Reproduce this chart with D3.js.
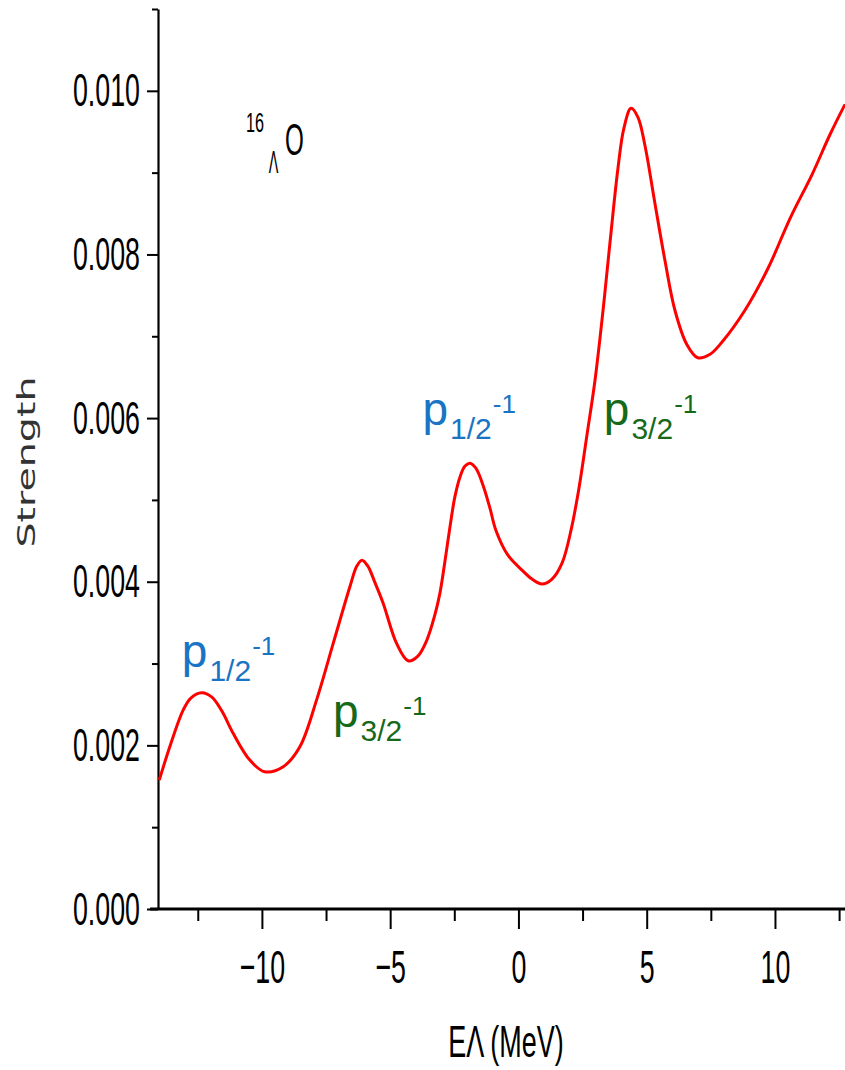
<!DOCTYPE html>
<html>
<head>
<meta charset="utf-8">
<script src="https://cdn.jsdelivr.net/npm/d3@7"></script>
<style>
  body { margin: 0; background: #fff; }
  svg { display: block; }
</style>
</head>
<body>
<svg id="chart" width="845" height="1070"></svg>
<script>
// strength function (E_Lambda in MeV, strength)
const energy = [-14.0, -13.59, -13.07, -12.77, -12.35, -11.95, -11.56, -11.12, -10.47, -9.89,
  -9.17, -8.52, -7.87, -7.22, -6.57, -6.30, -6.10, -5.87, -5.60, -5.27,
  -4.75, -4.30, -3.92, -3.57, -3.26, -3.06, -2.87, -2.67, -2.48, -2.28,
  -2.09, -1.89, -1.66, -1.38, -1.11, -0.88, -0.41, 0.14, 0.53, 0.92,
  1.31, 1.70, 2.05, 2.36, 2.67, 2.98, 3.29, 3.57, 3.88, 4.11,
  4.39, 4.66, 4.93, 5.32, 5.71, 6.10, 6.56, 6.99, 7.47, 7.93,
  8.83, 9.73, 10.59, 11.45, 12.15, 12.73];
const strength = [0.001576, 0.001983, 0.002431, 0.002578, 0.002643, 0.00259, 0.002419, 0.002147, 0.00182, 0.001677,
  0.001739, 0.001983, 0.002553, 0.003246, 0.003938, 0.004191, 0.004264, 0.004191, 0.003995, 0.003735,
  0.003246, 0.003034, 0.003091, 0.003287, 0.003592, 0.003861, 0.004239, 0.004667, 0.005034, 0.005278,
  0.005412, 0.005449, 0.005388, 0.00518, 0.004899, 0.00463, 0.004325, 0.004142, 0.004032, 0.003971,
  0.004032, 0.004227, 0.00463, 0.005144, 0.005791, 0.006451, 0.007294, 0.008149, 0.009053, 0.009542,
  0.009786, 0.009676, 0.009334, 0.008626, 0.007929, 0.007318, 0.006903, 0.006738, 0.006781, 0.006927,
  0.007318, 0.007831, 0.008442, 0.00898, 0.009469, 0.009835];

const xMajor = [-10, -5, 0, 5, 10];
const xMinor = [-12.5, -7.5, -2.5, 2.5, 7.5, 12.5];
const yMajor = [0, 0.002, 0.004, 0.006, 0.008, 0.010];
const yMinor = [0.001, 0.003, 0.005, 0.007, 0.009, 0.011];

// peak labels: sub index and anchor (E, strength) of the baseline start
const peakNames = ["p", "p", "p", "p"];
const peakSubs = ["1/2", "3/2", "1/2", "3/2"];
const peakE = [-13.12, -7.23, -3.74, 3.33];
const peakS = [0.00296, 0.00222, 0.00591, 0.00591];

const blue = "#1a74c4", green = "#17691a";
const narrow = 0.57; // figure text is squeezed horizontally

const svg = d3.select("#chart");

const x = d3.scaleLinear().domain([-14.05, 12.73]).range([158, 845]);
const y = d3.scaleLinear().domain([0, 0.011]).range([909, 9]);

const numFont = "'Liberation Sans', Arial, sans-serif";

// y axis
const yAxis = svg.append("g").attr("transform", "translate(158,0)")
  .call(d3.axisLeft(y).tickValues(yMajor).tickSize(11).tickSizeOuter(0).tickPadding(7)
    .tickFormat(d3.format(".3f")));
yAxis.select(".domain").attr("stroke-width", 2.2);
yAxis.selectAll(".tick line").attr("stroke-width", 2);
yAxis.selectAll("text")
  .style("font-family", numFont).style("font-size", "47px").attr("fill", "#000")
  .attr("transform", function() { return `translate(${d3.select(this).attr("x")},0) scale(${narrow},1)`; })
  .attr("x", 0);

svg.append("g").attr("transform", "translate(158,0)")
  .call(d3.axisLeft(y).tickValues(yMinor).tickSize(6).tickSizeOuter(0).tickFormat(""))
  .call(g => g.select(".domain").remove())
  .selectAll("line").attr("stroke-width", 2);

// x axis
const xAxis = svg.append("g").attr("transform", "translate(0,909)")
  .call(d3.axisBottom(x).tickValues(xMajor).tickSize(20).tickSizeOuter(0).tickPadding(21));
xAxis.select(".domain").attr("d", "M150,0H845").attr("stroke-width", 3);
xAxis.selectAll(".tick line").attr("stroke-width", 2);
xAxis.selectAll("text")
  .style("font-family", numFont).style("font-size", "47px").attr("fill", "#000")
  .attr("transform", `scale(${narrow},1)`);
xAxis.selectAll("text").attr("x", 0);

svg.append("g").attr("transform", "translate(0,909)")
  .call(d3.axisBottom(x).tickValues(xMinor).tickSize(12).tickSizeOuter(0).tickFormat(""))
  .call(g => g.select(".domain").remove())
  .selectAll("line").attr("stroke-width", 2);

// axis titles
svg.append("text")
  .attr("transform", "translate(506,1057) scale(0.6,1)")
  .attr("text-anchor", "middle")
  .style("font-family", numFont).style("font-size", "45px")
  .text("EΛ (MeV)");

svg.append("text")
  .attr("transform", "translate(35,462) rotate(-90)")
  .attr("text-anchor", "middle")
  .attr("fill", "#333")
  .attr("textLength", 171).attr("lengthAdjust", "spacingAndGlyphs")
  .style("font-family", "'DejaVu Sans', Verdana, sans-serif").style("font-size", "25px")
  .text("Strength");

// nucleus label 16-Lambda-O
const nuc = svg.append("g").style("font-family", numFont).attr("fill", "#000");
nuc.append("text").attr("transform", "translate(246,132) scale(0.6,1)")
  .style("font-size", "27px").text("16");
nuc.append("text").attr("transform", "translate(273.5,173) scale(0.45,1)")
  .attr("text-anchor", "middle").style("font-size", "32px").text("Λ");
nuc.append("text").attr("transform", "translate(285,155) scale(0.55,1)")
  .style("font-size", "44px").text("O");

// curve
const pts = energy.map((e, i) => [e, strength[i]]);
svg.append("path")
  .datum(pts)
  .attr("fill", "none")
  .attr("stroke", "#ff0000")
  .attr("stroke-width", 3)
  .attr("d", d3.line().x(d => x(d[0])).y(d => y(d[1])).curve(d3.curveCatmullRom.alpha(0.5)));

// peak labels
peakE.forEach(function(e, i) {
  const t = svg.append("text")
    .attr("x", x(e)).attr("y", y(peakS[i]))
    .attr("fill", i % 2 ? green : blue)
    .style("font-family", "'Liberation Sans', Arial, sans-serif");
  t.append("tspan").style("font-size", "46px").text(peakNames[i]);
  t.append("tspan").attr("dx", 2).attr("dy", 14).style("font-size", "30px").text(peakSubs[i]);
  t.append("tspan").attr("dx", 1).attr("dy", -26).style("font-size", "26px").text("-1");
});
</script>
</body>
</html>
